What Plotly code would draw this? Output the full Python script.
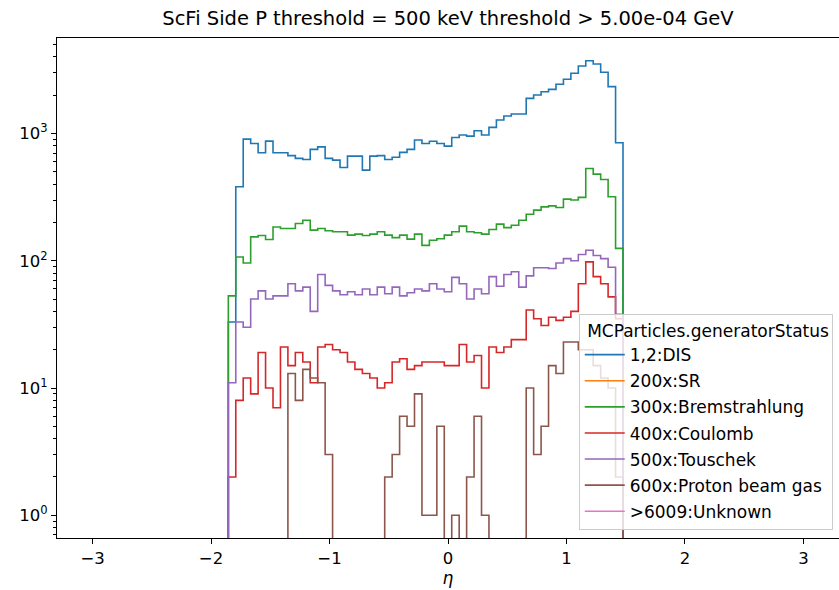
import numpy as np
import plotly.graph_objects as go

# Pseudorapidity binning of the histograms (53 equal-width bins)
eta_lo, eta_hi, n_bins = -1.854, 1.477, 53
edges = np.linspace(eta_lo, eta_hi, n_bins + 1)

status_labels = [
    "1,2:DIS",
    "200x:SR",
    "300x:Bremstrahlung",
    "400x:Coulomb",
    "500x:Touschek",
    "600x:Proton beam gas",
    ">6009:Unknown",
]
colors = ["#1f77b4", "#ff7f0e", "#2ca02c", "#d62728", "#9467bd", "#8c564b", "#e377c2"]

counts_dis = [33, 381, 903, 835, 706, 871, 706, 706, 670, 637,
              625, 750, 785, 637, 618, 541, 664, 664, 515, 664,
              670, 625, 650, 710, 750, 888, 835, 870, 835, 796,
              931, 972, 954, 1052, 972, 1117, 1276, 1372, 1422, 1422,
              1888, 2004, 2128, 2222, 2435, 2665, 2970, 3390, 3730, 3515,
              3025, 2335, 845]
counts_sr = [0] * n_bins
counts_brems = [53, 107, 96, 154, 158, 147, 184, 179, 179, 196,
                208, 174, 179, 172, 169, 169, 159, 162, 158, 162,
                169, 159, 152, 159, 148, 162, 132, 145, 149, 159,
                169, 187, 169, 166, 162, 176, 194, 182, 190, 208,
                232, 250, 265, 270, 262, 305, 300, 315, 531, 479,
                435, 318, 125]
counts_coulomb = [2, 8, 12, 9, 19, 10, 7, 21, 15, 19,
                  16, 11, 21, 22, 20, 19, 16, 14, 13, 12,
                  10, 11, 16, 17, 14, 15, 16, 16, 16, 15,
                  15, 22, 16, 18, 10, 21, 19, 21, 24, 24,
                  41, 35, 31, 36, 34, 36, 40, 66, 98, 75,
                  66, 52, 35]
counts_touschek = [11, 33, 30, 50, 58, 50, 53, 53, 66, 58,
                   62, 40, 78, 64, 58, 54, 57, 54, 60, 54,
                   62, 55, 62, 53, 56, 60, 58, 66, 60, 57,
                   74, 66, 50, 60, 55, 75, 63, 78, 82, 62,
                   76, 88, 88, 87, 96, 104, 100, 112, 121, 110,
                   104, 89, 38]
counts_protongas = [0, 0, 0, 0, 0, 0, 0, 0, 13, 8,
                    14, 12, 11, 3, 0, 0, 0, 0, 0, 0,
                    0, 2, 3, 6, 5, 9, 1, 1, 5, 0,
                    1, 0, 2, 6, 1, 0, 0, 0, 0, 0,
                    10, 3, 5, 15, 13, 23, 23, 20, 20, 15,
                    12, 10, 2]
counts_unknown = [0] * n_bins

all_counts = [counts_dis, counts_sr, counts_brems, counts_coulomb,
              counts_touschek, counts_protongas, counts_unknown]

# empty bins sit far below the visible log range so their outline is clipped
FLOOR = 1e-3


def step_outline(counts):
    c = np.asarray(counts, dtype=float)
    c = np.where(c > 0, c, FLOOR)
    x = np.concatenate([[edges[0]], edges[:-1], [edges[-1], edges[-1]]])
    y = np.concatenate([[FLOOR], c, [c[-1], FLOOR]])
    return x, y


fig = go.Figure()
for label, color, counts in zip(status_labels, colors, all_counts):
    x, y = step_outline(counts)
    fig.add_trace(go.Scatter(
        x=x, y=y, mode="lines", name=label, legendgroup=label,
        line=dict(color=color, width=1.6, shape="hv"),
    ))

ymax = max(max(c) for c in all_counts)
ymin_pos = min(v for c in all_counts for v in c if v > 0)
lo, hi = np.log10(ymin_pos), np.log10(ymax)
pad = 0.05 * (hi - lo)

minor_vals = [m * 10.0 ** e for e in range(-1, 4) for m in range(2, 10)]

fig.update_layout(
    width=839, height=590,
    margin=dict(l=57, r=0, t=38, b=52),
    paper_bgcolor="white", plot_bgcolor="white",
    font=dict(family="DejaVu Sans", size=16.5, color="black"),
    title=dict(
        text="ScFi Side P threshold = 500 keV threshold > 5.00e-04 GeV",
        x=0.5, xref="paper", xanchor="center",
        y=1 - 18 / 590, yref="container", yanchor="middle",
        font=dict(size=19.5, color="black"),
    ),
    xaxis=dict(
        range=[-3.3, 3.3],
        tickvals=[-3, -2, -1, 0, 1, 2, 3],
        ticks="outside", ticklen=5, tickwidth=1, tickcolor="black",
        showline=True, linecolor="black", linewidth=1, mirror=True,
        showgrid=False, zeroline=False,
        title=dict(text="<i>η</i>", standoff=2, font=dict(size=17)),
    ),
    yaxis=dict(
        type="log",
        range=[lo - pad, hi + pad],
        tickvals=[1, 10, 100, 1000],
        ticktext=["10<sup>0</sup>", "10<sup>1</sup>", "10<sup>2</sup>", "10<sup>3</sup>"],
        ticks="outside", ticklen=5, tickwidth=1, tickcolor="black",
        minor=dict(tickvals=minor_vals, ticks="outside", ticklen=3,
                   tickwidth=0.8, tickcolor="black", showgrid=False),
        showline=True, linecolor="black", linewidth=1, mirror=True,
        showgrid=False, zeroline=False,
    ),
    legend=dict(
        title=dict(text="\u00a0MCParticles.generatorStatus", font=dict(size=17)),
        x=0.992, xanchor="right", y=0.016, yanchor="bottom",
        bgcolor="rgba(255,255,255,0.8)", bordercolor="#cccccc", borderwidth=1,
        font=dict(size=17), itemwidth=40, tracegroupgap=1,
    ),
)

fig.write_html("out.html")
